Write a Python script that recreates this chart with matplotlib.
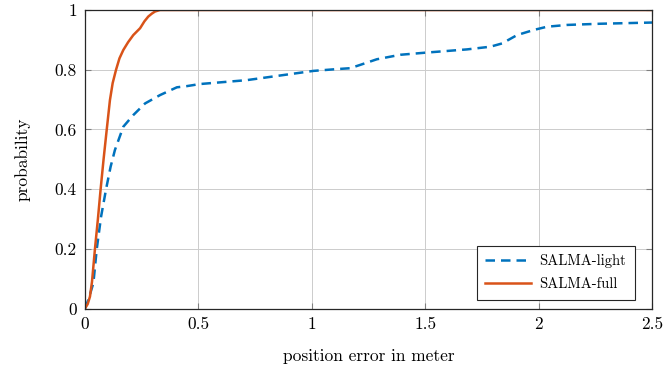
# empirical CDF of the position error, SALMA light vs full

import matplotlib
matplotlib.use('Agg')
import matplotlib.pyplot as plt

plt.rcParams['font.family'] = ['cmr10', 'DejaVu Serif']
plt.rcParams['mathtext.fontset'] = 'cm'
plt.rcParams['axes.formatter.use_mathtext'] = True

# values
light_x = [0.0, 0.015, 0.037, 0.052, 0.071, 0.093, 0.113, 0.132, 0.169, 0.213,
           0.265, 0.331, 0.405, 0.449, 0.507, 0.713, 1.007, 1.11, 1.169, 1.213,
           1.287, 1.39, 1.50, 1.684, 1.787, 1.839, 1.905, 1.978, 2.037, 2.126,
           2.273, 2.5]
light_y = [0.0, 0.03, 0.085, 0.2, 0.308, 0.4, 0.475, 0.531, 0.609, 0.648,
           0.687, 0.715, 0.741, 0.745, 0.752, 0.765, 0.796, 0.802, 0.805, 0.816,
           0.835, 0.850, 0.857, 0.868, 0.877, 0.888, 0.916, 0.933, 0.944, 0.950,
           0.954, 0.958]

full_x = [0.0, 0.012, 0.022, 0.031, 0.044, 0.057, 0.069, 0.082, 0.096, 0.110,
          0.122, 0.137, 0.152, 0.169, 0.19, 0.213, 0.243, 0.262, 0.279, 0.295,
          0.309, 0.331, 2.5]
full_y = [0.0, 0.015, 0.04, 0.09, 0.2, 0.3, 0.4, 0.5, 0.6, 0.698,
          0.755, 0.8, 0.838, 0.866, 0.892, 0.916, 0.939, 0.962, 0.978, 0.988,
          0.995, 1.0, 1.0]

xticks = [0, 0.5, 1, 1.5, 2, 2.5]
xticklabels = ['0', '0.5', '1', '1.5', '2', '2.5']
yticks = [0, 0.2, 0.4, 0.6, 0.8, 1]
yticklabels = ['0', '0.2', '0.4', '0.6', '0.8', '1']

fig = plt.figure(figsize=(6.66, 3.76), dpi=100)
ax = fig.add_axes([0.1276, 0.1795, 0.8514, 0.7939])

ax.plot(light_x, light_y, color='#0072BD', lw=1.8, dashes=[3.8, 2.4],
        label='SALMA-light')
ax.plot(full_x, full_y, color='#D95319', lw=1.8, label='SALMA-full')

ax.set_xlim(0, 2.5)
ax.set_ylim(0, 1)
ax.set_xticks(xticks)
ax.set_xticklabels(xticklabels)
ax.set_yticks(yticks)
ax.set_yticklabels(yticklabels)
ax.tick_params(direction='in', length=4, width=0.8, color='#808080',
               labelsize=12.5, top=True, right=True, pad=6)
ax.grid(color='#cccccc', lw=0.7)
ax.set_axisbelow(True)
for s in ax.spines.values():
    s.set_color('#262626')
    s.set_linewidth(0.9)

ax.set_xlabel('position error in meter', fontsize=12.5, labelpad=12)
ax.set_ylabel('probability', fontsize=12.5, labelpad=17)

leg = ax.legend(loc='lower right', fontsize=10.5, fancybox=False,
                edgecolor='#262626', framealpha=1, borderpad=0.6,
                handlelength=3.1, handletextpad=0.6, labelspacing=0.6,
                borderaxespad=0, bbox_to_anchor=(0.97, 0.03))
leg.get_frame().set_linewidth(0.8)

fig.savefig('out.png', dpi=100)
